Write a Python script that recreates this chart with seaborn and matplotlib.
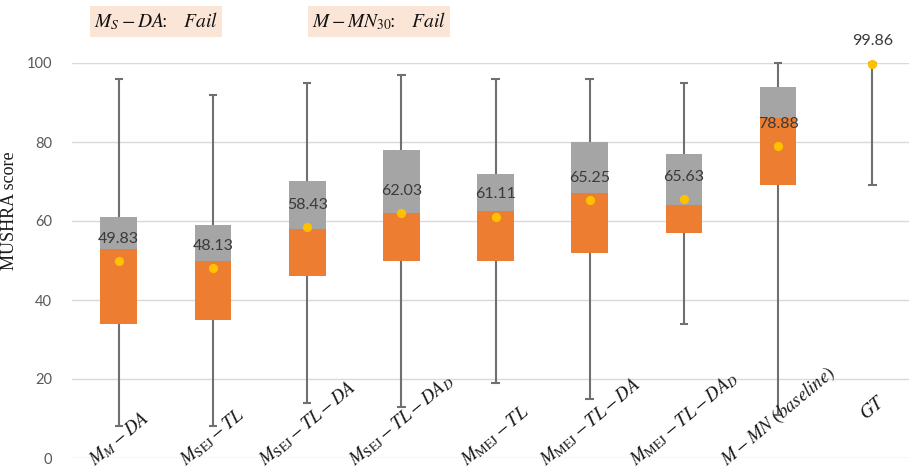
import numpy as np
import pandas as pd
import matplotlib
matplotlib.use("Agg")
import matplotlib.pyplot as plt
import seaborn as sns

# Systems under test (math-style labels)
systems = [
    r"$M_M-DA$",
    r"$M_{\mathrm{SEJ}}-TL$",
    r"$M_{\mathrm{SEJ}}-TL-DA$",
    r"$M_{\mathrm{SEJ}}-TL-DA_D$",
    r"$M_{\mathrm{MEJ}}-TL$",
    r"$M_{\mathrm{MEJ}}-TL-DA$",
    r"$M_{\mathrm{MEJ}}-TL-DA_D$",
    r"$M-MN\ (baseline)$",
    r"$GT$",
]

# MUSHRA score statistics per system
whisker_min = [8, 8, 14, 13, 19, 15, 34, 11, 69]
quartile_1 = [34, 35, 46, 50, 50, 52, 57, 69, 100]
medians = [53, 50, 58, 62, 62.5, 67, 64, 86, 100]
quartile_3 = [61, 59, 70, 78, 72, 80, 77, 94, 100]
whisker_max = [96, 92, 95, 97, 96, 96, 95, 100, 100]
means = [49.83, 48.13, 58.43, 62.03, 61.11, 65.25, 65.63, 78.88, 99.86]

# Systems that failed the test
failed = [r"$M_S-DA\!\!:\quad Fail$", r"$M-MN_{30}\!\!:\quad Fail$"]

yticks = [0, 20, 40, 60, 80, 100]

df = pd.DataFrame({
    "system": systems,
    "lo": whisker_min,
    "q1": quartile_1,
    "med": medians,
    "q3": quartile_3,
    "hi": whisker_max,
    "mean": means,
})
df["lower_part"] = df["med"] - df["q1"]
df["upper_part"] = df["q3"] - df["med"]

sns.set_style("white")
plt.rcParams["font.family"] = ["Lato", "DejaVu Sans"]
plt.rcParams["mathtext.fontset"] = "stix"

W, H = 909, 472
DPI = 100
fig = plt.figure(figsize=(W / DPI, H / DPI), dpi=DPI)
ax = fig.add_axes([71.7 / W, 14 / H, (W - 71.7) / W, 395 / H])

pos = np.arange(len(df))
whisker_color = "#707070"

# Whiskers with caps at both ends
ax.vlines(pos, df["lo"], df["hi"], color=whisker_color, lw=1.5, zorder=1)
cap = 0.045
ax.hlines(df["lo"], pos - cap, pos + cap, color=whisker_color, lw=1.5, zorder=1)
ax.hlines(df["hi"], pos - cap, pos + cap, color=whisker_color, lw=1.5, zorder=1,
          clip_on=False)

# Box: Q1 -> median in orange, median -> Q3 in gray
sns.barplot(data=df, x="system", y="lower_part", bottom=df["q1"].to_numpy(),
            color="#ED7D31", saturation=1, width=0.39, linewidth=0,
            order=systems, ax=ax, zorder=2)
sns.barplot(data=df, x="system", y="upper_part", bottom=df["med"].to_numpy(),
            color="#A5A5A5", saturation=1, width=0.39, linewidth=0,
            order=systems, ax=ax, zorder=2)

# Means
ax.scatter(pos, df["mean"], s=44, color="#FFC000", zorder=4, linewidths=0,
           clip_on=False)
for i, m in zip(pos, df["mean"]):
    ax.annotate(f"{m:.2f}", (i, m), xytext=(0, 16), textcoords="offset points",
                ha="center", va="center", fontsize=11.5, color="#3a3a3a", zorder=5,
                annotation_clip=False)

# Category labels, slanted inside the plot area
for i, name in zip(pos, systems):
    base = 8.9 if name == r"$GT$" else -3.0
    ax.text(i, base, name, rotation=40, ha="center", va="bottom",
            fontsize=13.5, color="#1a1a1a", clip_on=False, zorder=5)

ax.set_xlim(-0.5, 8.39)
ax.set_ylim(0, 100)
ax.set_xticks([])
ax.set_xlabel("")
ax.set_yticks(yticks)
ax.set_yticklabels([str(t) for t in yticks], fontsize=10.5, color="#595959")
ax.tick_params(axis="y", length=0, pad=14)
ax.yaxis.grid(True, color="#D9D9D9", lw=1)
ax.set_axisbelow(True)
for s in ax.spines.values():
    s.set_visible(False)

ax.set_ylabel("MUSHRA score", fontsize=13, family="Liberation Serif", color="#1a1a1a")
ax.yaxis.set_label_coords(-0.0647, 0.625)

# Failed-system notes above the plot
for x_px, note in zip([156, 379], failed):
    fig.text(x_px / W, 1 - 21.5 / H, note, ha="center", va="center", fontsize=14,
             color="#111111",
             bbox=dict(boxstyle="square,pad=0.22", fc="#FBE5D6", ec="none"))

fig.savefig("out.png", dpi=DPI)
